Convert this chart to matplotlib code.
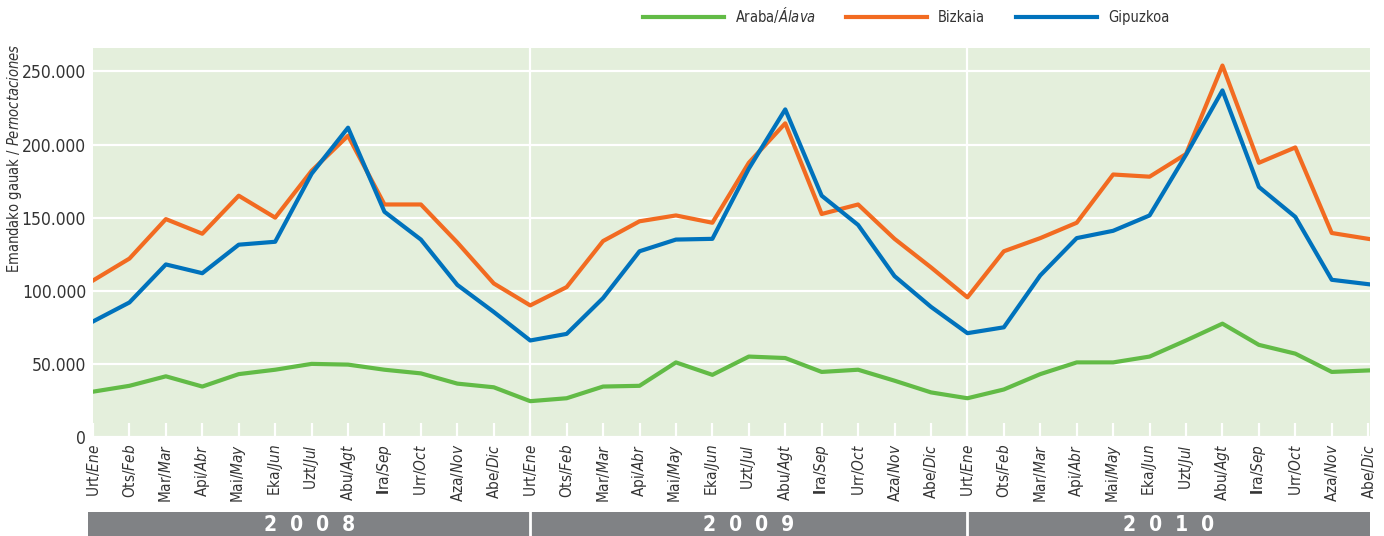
import matplotlib
matplotlib.use("Agg")
import matplotlib.pyplot as plt
from matplotlib import font_manager

# fuente estrecha parecida a la del original, si existe
cond = [f for f in font_manager.fontManager.ttflist
        if f.name == "DejaVu Sans" and f.stretch == "condensed"]
plt.rcParams["font.family"] = ["DejaVu Sans"]
plt.rcParams["mathtext.fontset"] = "custom"
if cond:
    plt.rcParams["font.stretch"] = "condensed"
    plt.rcParams["mathtext.rm"] = "DejaVu Sans:stretch=condensed"
    plt.rcParams["mathtext.it"] = "DejaVu Sans:style=italic:stretch=condensed"
    plt.rcParams["mathtext.bf"] = "DejaVu Sans:weight=bold:stretch=condensed"
else:
    plt.rcParams["mathtext.rm"] = "DejaVu Sans"
    plt.rcParams["mathtext.it"] = "DejaVu Sans:style=italic"
    plt.rcParams["mathtext.bf"] = "DejaVu Sans:weight=bold"
escala = 1.0 if cond else 0.88

# datos (miles de pernoctaciones)
meses_eu = ["Urt", "Ots", "Mar", "Api", "Mai", "Eka", "Uzt", "Abu", "Ira", "Urr", "Aza", "Abe"]
meses_es = ["Ene", "Feb", "Mar", "Abr", "May", "Jun", "Jul", "Agt", "Sep", "Oct", "Nov", "Dic"]
anios = ["2008", "2009", "2010"]

araba = [31, 35, 41.5, 34.5, 43, 46, 50, 49.5, 46, 43.5, 36.5, 34,
         24.5, 26.5, 34.5, 35, 51, 42.5, 55, 54, 44.5, 46, 38.5, 30.5,
         26.5, 32.5, 43, 51, 51, 55, 66, 77.5, 63, 57, 44.5, 45.5]
bizkaia = [107, 122, 149, 139, 165, 150, 182, 206, 159, 159, 133, 105,
           90, 102.5, 134, 147.5, 151.5, 146.5, 187.5, 214.5, 152.5, 159, 135.5, 116,
           95.5, 127, 136, 146.5, 179.5, 178, 193.5, 254, 187.5, 198, 139.5, 135.5]
gipuzkoa = [79, 92, 118, 112, 131.5, 133.5, 180, 211.5, 154, 135, 104, 85.5,
            66, 70.5, 95, 127, 135, 135.5, 183.5, 224, 165, 145, 110, 89,
            71, 75, 110.5, 136, 141, 151.5, 193, 237, 171, 150.5, 107.5, 104.5]


def etiqueta(eu, es):
    # en el original la "I" de Ira sale en negrita
    if eu == "Ira":
        eu = "$\\mathbf{I}$ra"
    return f"{eu}/$\\mathit{{{es}}}$"


etiquetas = [etiqueta(eu, es) for a in anios for eu, es in zip(meses_eu, meses_es)]
x = list(range(len(etiquetas)))

fig = plt.figure(figsize=(13.84, 5.36), dpi=100)
W, H = 1384, 536
ax = fig.add_axes([93 / W, 1 - 437 / H, (1370 - 93) / W, (437 - 48) / H])
ax.set_facecolor("#e4efdc")

ax.plot(x, [v * 1000 for v in araba], color="#62bb46", lw=3, label="Araba/$\\mathit{Álava}$")
ax.plot(x, [v * 1000 for v in bizkaia], color="#f26b21", lw=3, label="Bizkaia")
ax.plot(x, [v * 1000 for v in gipuzkoa], color="#0072bc", lw=3, label="Gipuzkoa")

ax.set_xlim(0, 35.05)
ax.set_ylim(0, 266000)
yt = [0, 50000, 100000, 150000, 200000, 250000]
ax.set_yticks(yt)
ax.set_yticklabels([f"{v:,}".replace(",", ".") for v in yt], fontsize=12.5 * escala, color="#333333")
ax.grid(axis="y", color="white", lw=1.6)
ax.set_axisbelow(True)
for i in (12, 24):
    ax.axvline(i, color="white", lw=1.6, zorder=0.5)
ax.set_xticks(x)
ax.set_xticklabels(etiquetas, rotation=90, fontsize=11 * escala, color="#333333")
ax.tick_params(axis="x", direction="in", length=10, width=1.6, color="white", pad=5)
ax.tick_params(axis="y", length=0, pad=5)
for s in ax.spines.values():
    s.set_visible(False)

fig.text(15 / W, 1 - 44 / H, "Emandako gauak / $\\mathit{Pernoctaciones}$",
         rotation=90, va="top", ha="center", fontsize=10.5 * escala, color="#333333")

fig.legend(loc="center", bbox_to_anchor=(906 / W, 1 - 15 / H), ncol=3, frameon=False,
           fontsize=10.5 * escala, handlelength=5.55 / escala, handletextpad=0.75,
           columnspacing=2.1, labelcolor="#333333")

# franja de años
band = fig.add_axes([88 / W, 0, (1370 - 88) / W, 24 / H])
band.set_facecolor("#808285")
band.set_xlim(-5 / 36.43, 35.05)
band.set_ylim(0, 1)
band.set_xticks([])
band.set_yticks([])
for s in band.spines.values():
    s.set_visible(False)
limites = [-5 / 36.43, 12, 24, 35.05]
for k, a in enumerate(anios):
    band.text((limites[k] + limites[k + 1]) / 2, 0.45, "  ".join(a), ha="center", va="center",
              color="white", fontsize=15, fontweight="bold")
for i in (12, 24):
    band.axvline(i, color="white", lw=2)

fig.savefig("out.png", dpi=100)
